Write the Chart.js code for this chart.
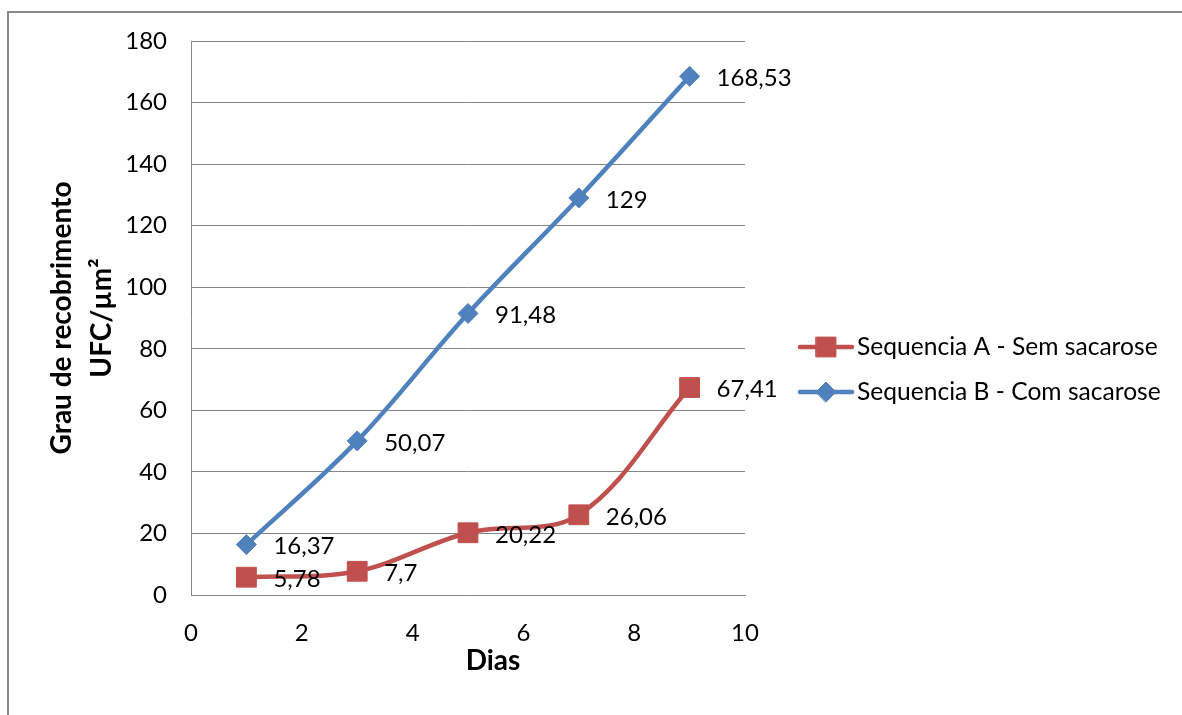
<!DOCTYPE html>
<html>
<head>
<meta charset="utf-8">
<script src="https://cdn.jsdelivr.net/npm/chart.js@4.4.1/dist/chart.umd.min.js"></script>
<style>
  body { margin: 0; background: #fff; overflow: hidden; }
  #frame { position: absolute; left: 7px; top: 11px; width: 1400px; height: 900px;
           border-left: 2px solid #898989; border-top: 2px solid #898989; }
  #wrap { position: absolute; left: 0; top: 0; width: 1182px; height: 715px; }
</style>
</head>
<body>
<div id="frame"></div>
<div id="wrap"><canvas id="chart"></canvas></div>
<script>
// Data
const dias = [1, 3, 5, 7, 9];
const semSacarose = [5.78, 7.7, 20.22, 26.06, 67.41];
const comSacarose = [16.37, 50.07, 91.48, 129, 168.53];
const seriesNames = ['Sequencia A - Sem sacarose', 'Sequencia B - Com sacarose'];
const xTitle = 'Dias';
const yTitle = ['Grau de recobrimento', 'UFC/µm²'];

const RED = '#C0504D';
const BLUE = '#4F81BD';
const GRID = '#868686';
const FONT = 'Lato';

const toPoints = (xs, ys) => xs.map((x, i) => ({ x: x, y: ys[i] }));
const fmt = v => String(v).replace('.', ',');

// value labels to the right of every point
const pointLabels = {
    id: 'pointLabels',
    afterDatasetsDraw(chart) {
        const ctx = chart.ctx;
        ctx.save();
        ctx.font = '24px ' + FONT;
        ctx.fillStyle = '#000';
        ctx.textAlign = 'left';
        ctx.textBaseline = 'middle';
        chart.data.datasets.forEach((ds, i) => {
            chart.getDatasetMeta(i).data.forEach((pt, j) => {
                ctx.fillText(fmt(ds.data[j].y), pt.x + 27, pt.y + 2);
            });
        });
        ctx.restore();
    }
};

// axis titles and the legend, Excel style
const extras = {
    id: 'extras',
    afterDraw(chart) {
        const ctx = chart.ctx;
        const a = chart.chartArea;
        ctx.save();
        ctx.fillStyle = '#000';
        ctx.font = 'bold 28px ' + FONT;
        ctx.textAlign = 'center';
        ctx.textBaseline = 'middle';
        ctx.fillText(xTitle, (a.left + a.right) / 2 + 25, 661);

        ctx.save();
        ctx.translate(62, (a.top + a.bottom) / 2);
        ctx.rotate(-Math.PI / 2);
        ctx.fillText(yTitle[0], 0, 0);
        ctx.fillText(yTitle[1], 0, 40);
        ctx.restore();

        // legend rows
        const rows = [347, 392];
        chart.data.datasets.forEach((ds, k) => {
            const y = rows[k];
            const x0 = a.right + 55;
            ctx.strokeStyle = ds.borderColor;
            ctx.lineWidth = 4.5;
            ctx.lineCap = 'round';
            ctx.beginPath();
            ctx.moveTo(x0, y);
            ctx.lineTo(x0 + 52, y);
            ctx.stroke();
            ctx.fillStyle = ds.backgroundColor;
            ctx.lineWidth = 1;
            Chart.helpers.drawPoint(ctx, {
                pointStyle: ds.pointStyle,
                radius: ds.pointRadius,
                borderWidth: 1
            }, x0 + 26, y);
            ctx.fillStyle = '#000';
            ctx.font = '24.6px ' + FONT;
            ctx.textAlign = 'left';
            ctx.fillText(ds.label, x0 + 57, y);
        });
        ctx.restore();
    }
};

new Chart(document.getElementById('chart'), {
    type: 'scatter',
    data: {
        datasets: [
            {
                label: seriesNames[0],
                data: toPoints(dias, semSacarose),
                showLine: true,
                borderColor: RED,
                backgroundColor: RED,
                borderWidth: 4.5,
                tension: 0.35,
                pointStyle: 'rect',
                pointRadius: 14,
                pointHoverRadius: 14,
                pointBorderWidth: 1
            },
            {
                label: seriesNames[1],
                data: toPoints(dias, comSacarose),
                showLine: true,
                borderColor: BLUE,
                backgroundColor: BLUE,
                borderWidth: 4.5,
                tension: 0.35,
                pointStyle: 'rectRot',
                pointRadius: 10,
                pointHoverRadius: 10,
                pointBorderWidth: 1
            }
        ]
    },
    options: {
        responsive: true,
        maintainAspectRatio: false,
        animation: false,
        layout: { padding: { top: 41, right: 437, bottom: 0, left: 0 } },
        plugins: {
            legend: { display: false },
            tooltip: { enabled: false }
        },
        scales: {
            x: {
                type: 'linear',
                min: 0,
                max: 10,
                ticks: { stepSize: 2, padding: 24, color: '#000', font: { family: FONT, size: 24 } },
                grid: { display: false, drawTicks: false },
                border: { display: true, color: GRID, width: 1 },
                afterFit(scale) { scale.height = 120; }
            },
            y: {
                min: 0,
                max: 180,
                ticks: { stepSize: 20, padding: 24, color: '#000', font: { family: FONT, size: 24 } },
                grid: { color: GRID, lineWidth: 1, drawTicks: false },
                border: { display: true, color: GRID, width: 1 },
                afterFit(scale) { scale.width = 191; }
            }
        }
    },
    plugins: [pointLabels, extras]
});
</script>
</body>
</html>
